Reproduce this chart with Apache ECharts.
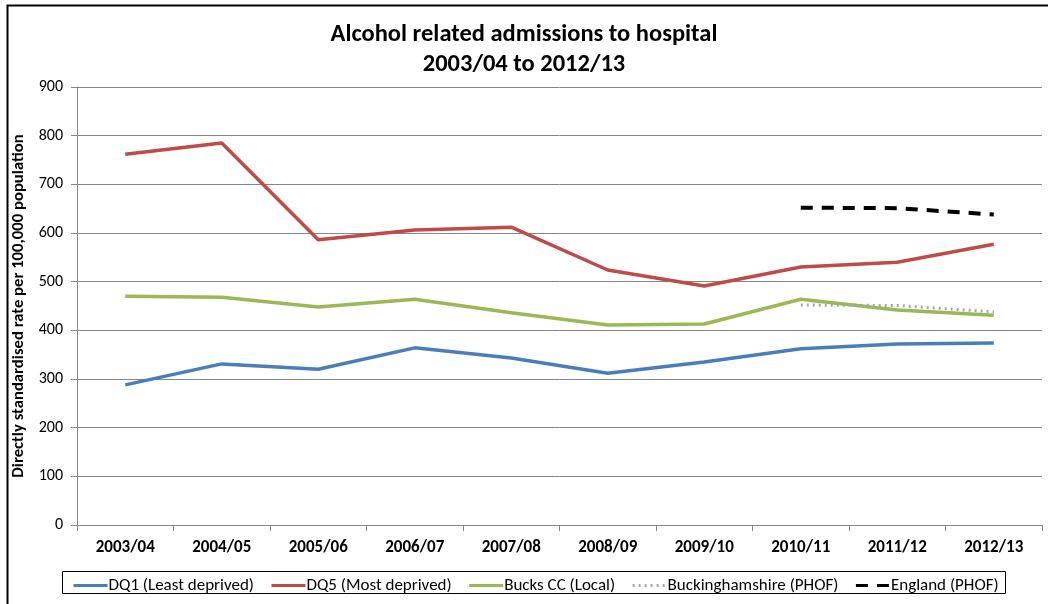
<!DOCTYPE html>
<html><head><meta charset="utf-8">
<script src="https://cdn.jsdelivr.net/npm/echarts@6/dist/echarts.min.js"></script>
<style>html,body{margin:0;padding:0;background:#fff}#c{width:1048px;height:604px}</style>
</head><body><div id="c"></div>
<script>
const categories = ['2003/04','2004/05','2005/06','2006/07','2007/08','2008/09','2009/10','2010/11','2011/12','2012/13'];
const dq1 = [288, 331, 320, 364, 343, 312, 335, 362, 372, 374];
const dq5 = [762, 785, 586, 606, 612, 524, 491, 530, 540, 577];
const bucksCC = [470, 468, 448, 464, 436, 411, 413, 464, 442, 431];
const bucksPHOF = [null, null, null, null, null, null, null, 452, 451, 438];
const englandPHOF = [null, null, null, null, null, null, null, 652, 651, 638];
const yTicks = [0, 100, 200, 300, 400, 500, 600, 700, 800, 900];

const font = 'Carlito, "Liberation Sans Narrow", "Open Sans", sans-serif';
const chart = echarts.init(document.getElementById('c'), null, {renderer: 'canvas'});
function mk(name, data, color, type, width) {
  return {name, type: 'line', data, symbol: 'none', connectNulls: false,
    lineStyle: {color, width, type, cap: 'butt'}, itemStyle: {color}, z: 3};
}
chart.setOption({
  animation: false,
  title: {text: 'Alcohol related admissions to hospital\n2003/04 to 2012/13', left: 'center', top: 15,
    textStyle: {fontFamily: font, fontWeight: 'bold', fontSize: 24.5, lineHeight: 30, color: '#000'}},
  grid: {left: 77, right: 6, top: 87, bottom: 79},
  xAxis: {type: 'category', data: categories, boundaryGap: true,
    axisLine: {lineStyle: {color: '#868686', width: 1}},
    axisTick: {show: true, alignWithLabel: false, length: 6, lineStyle: {color: '#868686'}},
    axisLabel: {fontFamily: font, fontWeight: 'bold', fontSize: 17, color: '#000', margin: 14}},
  yAxis: {type: 'value', min: 0, max: 900, interval: 100,
    axisLine: {show: true, lineStyle: {color: '#868686'}},
    axisTick: {show: true, length: 6, lineStyle: {color: '#868686'}},
    axisLabel: {fontFamily: font, fontSize: 16, color: '#000', margin: 14,
      formatter: v => yTicks.includes(v) ? String(v) : ''},
    splitLine: {lineStyle: {color: '#868686', width: 1}},
    name: 'Directly standardised rate per 100,000 population', nameLocation: 'middle', nameGap: 49,
    nameTextStyle: {fontFamily: font, fontWeight: 'bold', fontSize: 16.7, color: '#000'}},
  legend: {top: 572, left: 67, itemGap: 16, itemWidth: 34, itemHeight: 10,
    itemStyle: {opacity: 0}, lineStyle: {width: 3},
    textStyle: {fontFamily: font, fontSize: 17, color: '#000', padding: [0, 0, 0, -4]},
    data: ['DQ1 (Least deprived)', 'DQ5 (Most deprived)', 'Bucks CC (Local)', 'Buckinghamshire (PHOF)', 'England (PHOF)']},
  graphic: [
    {type: 'rect', shape: {x: 7.5, y: 5.5, width: 1048, height: 610}, style: {fill: 'none', stroke: '#000', lineWidth: 2}, silent: true},
    {type: 'rect', shape: {x: 62.5, y: 571.5, width: 943, height: 22}, style: {fill: 'none', stroke: '#000', lineWidth: 1}, silent: true}
  ],
  series: [
    mk('DQ1 (Least deprived)', dq1, '#4A7EBB', 'solid', 3.5),
    mk('DQ5 (Most deprived)', dq5, '#BE4B48', 'solid', 3.5),
    mk('Bucks CC (Local)', bucksCC, '#98B954', 'solid', 3.5),
    mk('Buckinghamshire (PHOF)', bucksPHOF, '#A6A6A6', [2, 4], 3),
    mk('England (PHOF)', englandPHOF, '#000000', [12, 9], 4)
  ]
});
</script></body></html>
